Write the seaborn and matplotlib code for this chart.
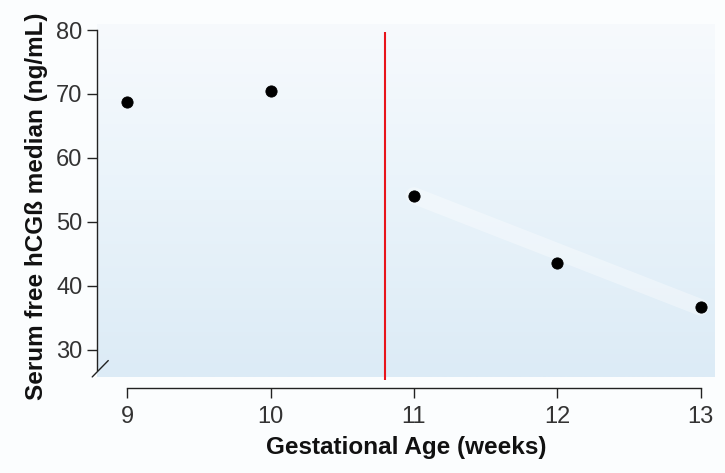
import numpy as np
import pandas as pd
import matplotlib
matplotlib.use("Agg")
import matplotlib.pyplot as plt
from matplotlib.colors import LinearSegmentedColormap
import seaborn as sns

weeks = [9, 10, 11, 12, 13]
hcg_median = [68.8, 70.4, 54.1, 43.6, 36.6]
cutoff_week = 10.8
x_ticks = [9, 10, 11, 12, 13]
y_ticks = [30, 40, 50, 60, 70, 80]

df = pd.DataFrame({"week": weeks, "hcg": hcg_median})

sns.set_style("ticks")
plt.rcParams["font.family"] = ["Liberation Sans Narrow", "Liberation Sans", "DejaVu Sans"]

fig = plt.figure(figsize=(7.25, 4.73), dpi=100, facecolor="#fbfdfe")
ax = fig.add_axes([0.134, 0.18, 0.852, 0.77])

# pale blue wash behind the plot, lighter towards the top
grad = np.linspace(0, 1, 256).reshape(-1, 1)
cmap = LinearSegmentedColormap.from_list("wash", ["#dcebf6", "#e9f3fa", "#f7fafd"])
ax.imshow(grad, cmap=cmap, origin="lower", aspect="auto",
          extent=[0, 1, 0.03, 1], transform=ax.transAxes, zorder=0)
ax.set_facecolor("#fbfdfe")

# faint white band through the later weeks
late = df[df["week"] >= 11]
ax.plot([late["week"].iloc[0], late["week"].iloc[-1]],
        [late["hcg"].iloc[0], late["hcg"].iloc[-1]],
        color="white", lw=12, alpha=0.35, zorder=1, solid_capstyle="round")

sns.scatterplot(data=df, x="week", y="hcg", ax=ax, color="black", s=65,
                edgecolor="black", zorder=3)

ax.vlines(cutoff_week, 25.3, 79.7, color="#e8141b", lw=1.5, zorder=2)

ax.set_xlim(8.79, 13.1)
ax.set_ylim(24.0, 81.0)
ax.set_xticks(x_ticks)
ax.set_yticks(y_ticks)

for s in ["top", "right"]:
    ax.spines[s].set_visible(False)
ax.spines["left"].set_bounds(26.8, 80)
ax.spines["bottom"].set_bounds(9, 13)
for s in ["left", "bottom"]:
    ax.spines[s].set_color("#222222")
    ax.spines[s].set_linewidth(1.0)

# axis break mark at the foot of the y axis
ax.plot([-0.008, 0.018], [0.03, 0.075], transform=ax.transAxes,
        color="#222222", lw=1.0, clip_on=False)

ax.tick_params(axis="both", colors="#222222", labelcolor="#333333",
               labelsize=17, length=7, width=1.0)
ax.tick_params(axis="x", pad=6)

ax.set_xlabel("Gestational Age (weeks)", fontsize=17.5, fontweight="bold",
              color="#111111", labelpad=6)
ax.set_ylabel("Serum free hCGß median (ng/mL)", fontsize=17.5, fontweight="bold",
              color="#111111", labelpad=6)

fig.savefig("out.png", dpi=100, facecolor=fig.get_facecolor())
